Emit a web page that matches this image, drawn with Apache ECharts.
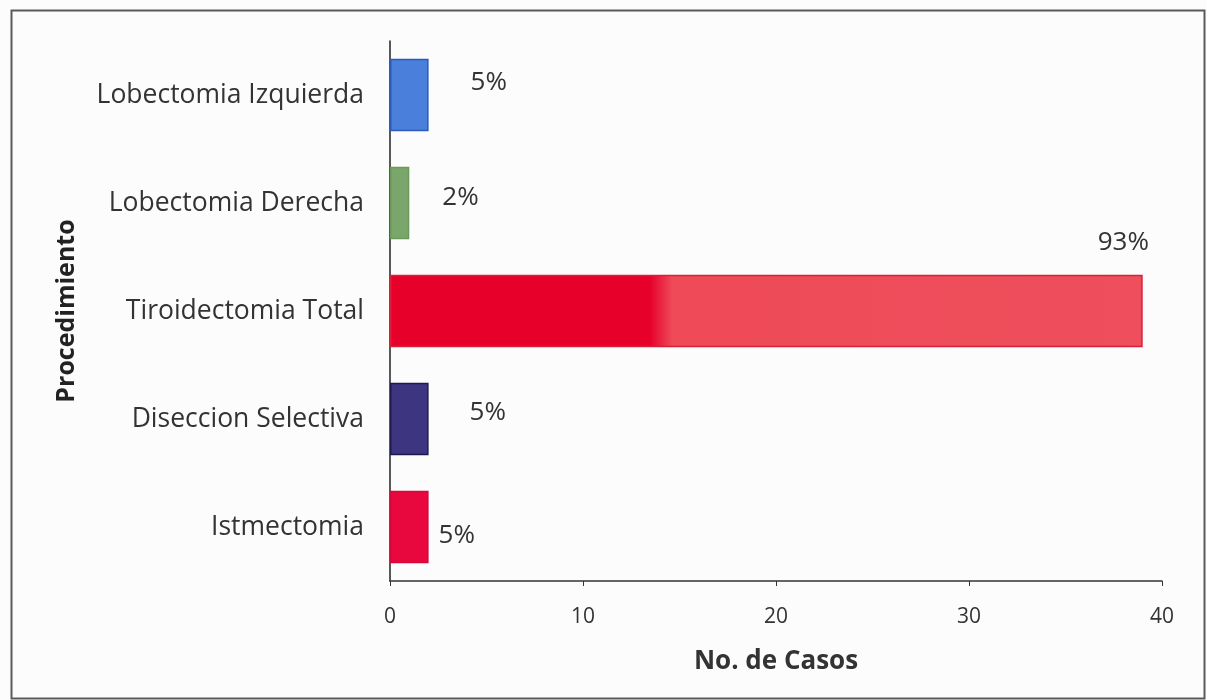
<!DOCTYPE html>
<html>
<head>
<meta charset="utf-8">
<script src="https://cdn.jsdelivr.net/npm/echarts@6/dist/echarts.min.js"></script>
<style>
  html, body { margin: 0; padding: 0; background: #fcfcfc; }
  #chart { width: 1207px; height: 700px; }
</style>
</head>
<body>
<div id="chart"></div>
<script>
// Procedures, listed bottom to top as drawn on the category axis
const categories = ['Istmectomia', 'Diseccion Selectiva', 'Tiroidectomia Total', 'Lobectomia Derecha', 'Lobectomia Izquierda'];
// Number of cases per procedure
const casos = [2, 2, 39, 1, 2];
// Share of cases shown beside each bar
const porcentajes = ['5%', '5%', '93%', '2%', '5%'];
// Value axis ticks
const xTicks = [0, 10, 20, 30, 40];

const FONT = '"Open Sans", Lato, sans-serif';

// Per-bar appearance and label placement
const barStyles = [
  { color: '#e8083e', borderColor: '#d4063a', offset: [5, 9] },
  { color: '#3d3580', borderColor: '#1f1a4e', offset: [36, -6] },
  {
    color: {
      type: 'linear', x: 0, y: 0, x2: 1, y2: 0,
      colorStops: [
        { offset: 0, color: '#e6002a' },
        { offset: 0.345, color: '#e6002a' },
        { offset: 0.375, color: '#ee4a58' },
        { offset: 1, color: '#ee4f5c' }
      ]
    },
    borderColor: '#d8203a', offset: [-50, -68]
  },
  { color: '#7ba66b', borderColor: '#6a9a5a', offset: [28, -5] },
  { color: '#4a80dc', borderColor: '#2b5bb6', offset: [37, -12] }
];

const chart = echarts.init(document.getElementById('chart'));

chart.setOption({
  backgroundColor: '#fcfcfc',
  animation: false,
  graphic: [{
    type: 'rect',
    left: 9, top: 8,
    shape: { width: 1193, height: 688 },
    style: { fill: 'none', stroke: '#5a5a5a', lineWidth: 2 },
    silent: true
  }],
  grid: { left: 390, right: 45, top: 41, bottom: 119, containLabel: false },
  xAxis: {
    type: 'value',
    min: xTicks[0],
    max: xTicks[xTicks.length - 1],
    interval: xTicks[1] - xTicks[0],
    name: 'No. de Casos',
    nameLocation: 'middle',
    nameGap: 68,
    nameTextStyle: { fontFamily: FONT, fontSize: 26, fontWeight: 'bold', color: '#333' },
    axisLine: { show: true, lineStyle: { color: '#333', width: 1.5 } },
    axisTick: { show: true, length: 5, lineStyle: { color: '#333' } },
    axisLabel: { fontFamily: FONT, fontSize: 21, color: '#333', margin: 26 },
    splitLine: { show: false }
  },
  yAxis: {
    type: 'category',
    data: categories,
    name: 'Procedimiento',
    nameLocation: 'middle',
    nameGap: 311,
    nameRotate: 90,
    nameTextStyle: { fontFamily: FONT, fontSize: 25, fontWeight: 'bold', color: '#222' },
    axisLine: { show: true, lineStyle: { color: '#222', width: 1.5 } },
    axisTick: { show: false },
    axisLabel: { fontFamily: FONT, fontSize: 26.5, color: '#333', margin: 26 }
  },
  series: [{
    type: 'bar',
    barCategoryGap: '33%',
    data: casos.map((v, i) => ({
      value: v,
      itemStyle: {
        color: barStyles[i].color,
        borderColor: barStyles[i].borderColor,
        borderWidth: 1.5
      },
      label: {
        show: true,
        position: 'right',
        distance: 5,
        offset: barStyles[i].offset,
        formatter: porcentajes[i],
        fontFamily: FONT,
        fontSize: 26,
        color: '#333'
      }
    }))
  }]
});
</script>
</body>
</html>
